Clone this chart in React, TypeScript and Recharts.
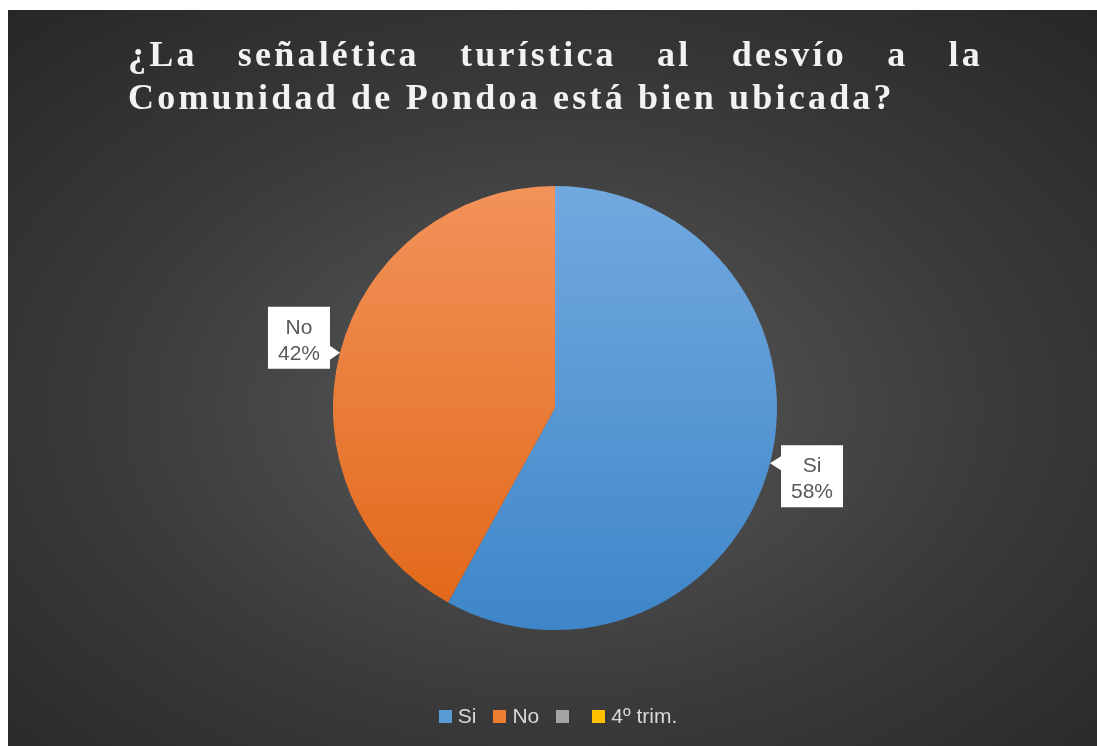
import { Cell, Legend, Pie, PieChart } from "recharts"

const categories = ["Si", "No", "", "4º trim."]
const shares = [58, 42, 0, 0]
const legendColors = ["#5b9bd5", "#ed7d31", "#a5a5a5", "#ffc000"]
const sliceFills = ["url(#gradSi)", "url(#gradNo)", "#a5a5a5", "#ffc000"]

const titleLines = [
  "¿La señalética turística al desvío a la",
  "Comunidad de Pondoa está bien ubicada?",
]

const data = categories.map((name, i) => ({ name, value: shares[i] }))

const RADIAN = Math.PI / 180

function renderLabel(props: any) {
  const { cx, cy, midAngle, outerRadius, name, percent, value } = props
  if (!value) return null
  const tx = cx + outerRadius * Math.cos(-midAngle * RADIAN)
  const ty = cy + outerRadius * Math.sin(-midAngle * RADIAN)
  const w = 62
  const h = 62
  const right = tx > cx
  const left = right ? tx + 11 : tx - 10 - w
  const top = right ? ty - 18 : ty - 46
  const edge = right ? left : left + w
  const path = right
    ? `M${left},${top} L${left + w},${top} L${left + w},${top + h} L${left},${top + h} L${left},${ty + 7} L${tx},${ty} L${left},${ty - 7} Z`
    : `M${left},${top} L${left + w},${top} L${edge},${ty - 7} L${tx},${ty} L${edge},${ty + 7} L${left + w},${top + h} L${left},${top + h} Z`
  const pct = `${Math.round(percent * 100)}%`
  return (
    <g key={name}>
      <path d={path} fill="#ffffff" />
      <text
        x={left + w / 2}
        textAnchor="middle"
        fill="#595959"
        fontSize={21}
        fontFamily="Liberation Sans, Arial, sans-serif"
      >
        <tspan x={left + w / 2} y={top + 27}>{name}</tspan>
        <tspan x={left + w / 2} y={top + 53}>{pct}</tspan>
      </text>
    </g>
  )
}

function renderLegend() {
  return (
    <div
      style={{
        display: "flex",
        justifyContent: "center",
        alignItems: "center",
        fontFamily: "Liberation Sans, Arial, sans-serif",
        fontSize: 21,
        color: "#d9d9d9",
        paddingLeft: 28,
      }}
    >
      {categories.map((name, i) => (
        <div key={i} style={{ display: "flex", alignItems: "center", marginRight: 17 }}>
          <span
            style={{
              display: "inline-block",
              width: 13,
              height: 13,
              background: legendColors[i],
              marginRight: 6,
            }}
          />
          <span>{name}</span>
        </div>
      ))}
    </div>
  )
}

export default function App() {
  return (
    <div
      style={{
        position: "fixed",
        left: 8,
        top: 10,
        width: 1089,
        height: 736,
        background: "radial-gradient(ellipse 75% 75% at 50% 54%, #5a5a5a 0%, #3a3a3a 55%, #262626 100%)",
        overflow: "hidden",
      }}
    >
      <div
        style={{
          position: "absolute",
          left: 120,
          top: 23,
          width: 855,
          fontFamily: "Liberation Serif, 'Times New Roman', serif",
          fontWeight: "bold",
          fontSize: 36,
          letterSpacing: 3.2,
          lineHeight: "43px",
          color: "#f2f2f2",
          zIndex: 2,
        }}
      >
        <div style={{ textAlign: "justify", textAlignLast: "justify", whiteSpace: "nowrap" }}>
          {titleLines[0]}
        </div>
        <div>{titleLines[1]}</div>
      </div>
      <PieChart width={1089} height={736} style={{ position: "absolute", left: 0, top: 0 }}>
        <defs>
          <linearGradient id="gradSi" x1="0" y1="0" x2="0" y2="1">
            <stop offset="0%" stopColor="#72a9df" />
            <stop offset="100%" stopColor="#3e86c9" />
          </linearGradient>
          <linearGradient id="gradNo" x1="0" y1="0" x2="0" y2="1">
            <stop offset="0%" stopColor="#f2925a" />
            <stop offset="100%" stopColor="#e2691b" />
          </linearGradient>
        </defs>
        <Pie
          data={data}
          dataKey="value"
          nameKey="name"
          cx={542}
          cy={393}
          outerRadius={222}
          startAngle={90}
          endAngle={-270}
          stroke="none"
          label={renderLabel}
          labelLine={false}
          isAnimationActive={false}
        >
          {data.map((d, i) => (
            <Cell key={i} fill={sliceFills[i]} />
          ))}
        </Pie>
        <Legend
          content={renderLegend}
          verticalAlign="bottom"
          wrapperStyle={{ bottom: 18, left: 0, width: "100%" }}
        />
      </PieChart>
    </div>
  )
}
